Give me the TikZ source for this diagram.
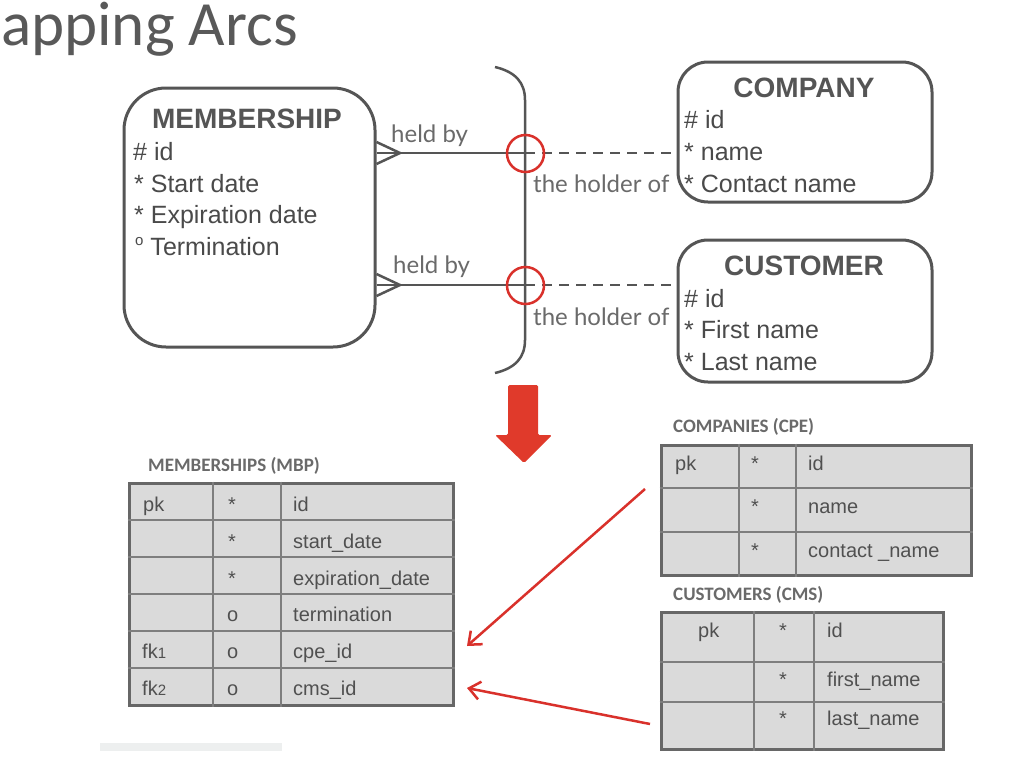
\documentclass[tikz,border=0pt]{standalone}
\usepackage{fontspec}
\setmainfont{Liberation Sans}
\newfontfamily\latofont{Lato}
\newfontfamily\carlfont{Carlito}
\usetikzlibrary{arrows.meta}
\definecolor{ergray}{HTML}{555555}
\definecolor{txtgray}{HTML}{4A4A4A}
\definecolor{lblgray}{HTML}{6A6A6A}
\definecolor{arcred}{HTML}{D9312B}
\definecolor{bigred}{HTML}{E03A2B}
\definecolor{cellfill}{HTML}{DADADA}
\definecolor{cellline}{HTML}{7E7E7E}
\definecolor{tblborder}{HTML}{676767}
\definecolor{celltext}{HTML}{505050}
\definecolor{titlegray}{HTML}{595959}
\definecolor{bargray}{HTML}{EDEFEF}
\tikzset{
  entbox/.style={draw=ergray, line width=3pt, fill=white, inner sep=0pt},
  ttl/.style={font=\bfseries\fontsize{28}{30}\selectfont, text=ergray, inner sep=0pt, anchor=base},
  attr/.style={font=\fontsize{25}{28}\selectfont, text=txtgray, inner sep=0pt, anchor=base west},
  rel/.style={font=\latofont\fontsize{24}{26}\selectfont, text=lblgray, inner sep=0pt, anchor=base west},
  cell/.style={font=\fontsize{20}{22}\selectfont, text=celltext, inner sep=0pt, anchor=base west},
  tlabel/.style={font=\carlfont\bfseries\fontsize{19}{21}\selectfont, text=lblgray, inner sep=0pt, anchor=base west},
  relline/.style={draw=ergray, line width=2.5pt},
  reldash/.style={draw=ergray, line width=2.5pt, dash pattern=on 10pt off 7pt},
  arcmark/.style={circle, draw=arcred, line width=2.5pt, minimum size=37pt, inner sep=0pt},
  tbl/.style={draw=tblborder, line width=3pt, fill=cellfill, inner sep=0pt},
  tline/.style={draw=cellline, line width=1.5pt},
  maparrow/.style={draw=arcred, line width=2.5pt, -{Straight Barb[length=11pt,width=18pt,line width=2.5pt]}}
}
\begin{document}
\begin{tikzpicture}[x=1pt,y=-1pt]
\fill[white] (0,0) rectangle (1014,774);
\useasboundingbox (0,0) rectangle (1014,774);

% title
\node[font=\carlfont\fontsize{63}{66}\selectfont, text=titlegray, inner sep=0pt, anchor=base west] (title) at (1,45) {apping Arcs};

% arc bracket
\draw[ergray, line width=2.5pt] (495,67) .. controls (516,72) and (525,83) .. (525,100) -- (525,340) .. controls (525,357) and (516,368) .. (495,373);

% entities
\node[entbox, rounded corners=42pt, minimum width=251pt, minimum height=259pt] (mem) at (249.5,217.5) {};
\node[ttl] (memT) at (247,128) {MEMBERSHIP};
\node[attr] (memA1) at (133,160) {\# id};
\node[attr] (memA2) at (134,192) {* Start date};
\node[attr] (memA3) at (134,223) {* Expiration date};
\node[attr] (memA4) at (135,255) {\raisebox{0.38em}{\fontsize{15}{15}\selectfont o} Termination};

\node[entbox, rounded corners=30pt, minimum width=254pt, minimum height=140pt] (comp) at (805,132) {};
\node[ttl] (compT) at (804,97) {COMPANY};
\node[attr] (compA1) at (684,128) {\# id};
\node[attr] (compA2) at (684,160) {* name};
\node[attr] (compA3) at (684,192) {* Contact name};

\node[entbox, rounded corners=30pt, minimum width=254pt, minimum height=142pt] (cust) at (805,311) {};
\node[ttl] (custT) at (804,275) {CUSTOMER};
\node[attr] (custA1) at (684,307) {\# id};
\node[attr] (custA2) at (684,338) {* First name};
\node[attr] (custA3) at (684,370) {* Last name};

% relationships
\coordinate (bar1) at (525,153);
\coordinate (bar2) at (525,285);
\coordinate (foot1) at (400,153);
\coordinate (foot2) at (400,285);
\draw[relline] (mem.east |- bar1) -- (bar1);
\draw[relline] (mem.east |- 0,142) -- (foot1) -- (mem.east |- 0,164);
\draw[reldash] (bar1) -- (comp.west |- bar1);
\draw[relline] (mem.east |- bar2) -- (bar2);
\draw[relline] (mem.east |- 0,274) -- (foot2) -- (mem.east |- 0,296);
\draw[reldash] (bar2) -- (cust.west |- bar2);
\node[arcmark] (arc1) at (525.5,153.5) {};
\node[arcmark] (arc2) at (525.5,285.5) {};
\node[rel] (hb1) at (391,142) {held by};
\node[rel] (hb2) at (393,273) {held by};
\node[rel] (ho1) at (533,192) {the holder of};
\node[rel] (ho2) at (533,325) {the holder of};

% big arrow
\fill[bigred, rounded corners=1.5pt] (508,385) -- (538,385) -- (538,435) -- (552,435) -- (524,463) -- (495,435) -- (508,435) -- cycle;

% MBP table
\node[tlabel] (mbpL) at (148,471) {MEMBERSHIPS (MBP)};
\node[tbl, minimum width=324pt, minimum height=222pt] (mbp) at (291,594) {};
\foreach \xx in {213,281} \draw[tline] (mbp.north -| \xx,0) -- (mbp.south -| \xx,0);
\foreach \yy in {520,557,594,631,668} \draw[tline] (mbp.west |- 0,\yy) -- (mbp.east |- 0,\yy);
\node[cell] (m11) at (143,511) {pk};
\node[cell] (m12) at (228,511) {*};
\node[cell] (m13) at (293,511) {id};
\node[cell] (m22) at (228,548) {*};
\node[cell] (m23) at (293,548) {start\_date};
\node[cell] (m32) at (228,585) {*};
\node[cell] (m33) at (293,585) {expiration\_date};
\node[cell] (m42) at (227,621) {o};
\node[cell] (m43) at (293,621) {termination};
\node[cell] (m51) at (142,658) {fk{\fontsize{15}{15}\selectfont 1}};
\node[cell] (m52) at (227,658) {o};
\node[cell] (m53) at (293,658) {cpe\_id};
\node[cell] (m61) at (142,695) {fk{\fontsize{15}{15}\selectfont 2}};
\node[cell] (m62) at (227,695) {o};
\node[cell] (m63) at (293,695) {cms\_id};

% CPE table
\node[tlabel] (cpeL) at (673,432) {COMPANIES (CPE)};
\node[tbl, minimum width=310pt, minimum height=130pt] (cpe) at (816,510) {};
\foreach \xx in {739,796} \draw[tline] (cpe.north -| \xx,0) -- (cpe.south -| \xx,0);
\foreach \yy in {488,532} \draw[tline] (cpe.west |- 0,\yy) -- (cpe.east |- 0,\yy);
\node[cell] (p11) at (675,470) {pk};
\node[cell] (p12) at (751,470) {*};
\node[cell] (p13) at (808,470) {id};
\node[cell] (p22) at (751,513) {*};
\node[cell] (p23) at (808,513) {name};
\node[cell] (p32) at (751,557) {*};
\node[cell] (p33) at (808,557) {contact \_name};

% CMS table
\node[tlabel] (cmsL) at (673,600) {CUSTOMERS (CMS)};
\node[tbl, minimum width=282pt, minimum height=137pt] (cms) at (802,680.5) {};
\foreach \xx in {754,814} \draw[tline] (cms.north -| \xx,0) -- (cms.south -| \xx,0);
\foreach \yy in {662,702} \draw[tline] (cms.west |- 0,\yy) -- (cms.east |- 0,\yy);
\node[cell] (s11) at (698,637) {pk};
\node[cell] (s12) at (779,637) {*};
\node[cell] (s13) at (827,637) {id};
\node[cell] (s22) at (779,686) {*};
\node[cell] (s23) at (827,686) {first\_name};
\node[cell] (s32) at (779,725) {*};
\node[cell] (s33) at (827,725) {last\_name};

% mapping arrows
\coordinate (fromcpe) at (645,489);
\coordinate (tocpe) at (467,646);
\coordinate (fromcms) at (650,724);
\coordinate (tocms) at (467,688);
\draw[maparrow] (fromcpe) -- (tocpe);
\draw[maparrow] (fromcms) -- (tocms);

% faint bar
\fill[bargray] (100,743) rectangle (282,751);
\end{tikzpicture}
\end{document}
